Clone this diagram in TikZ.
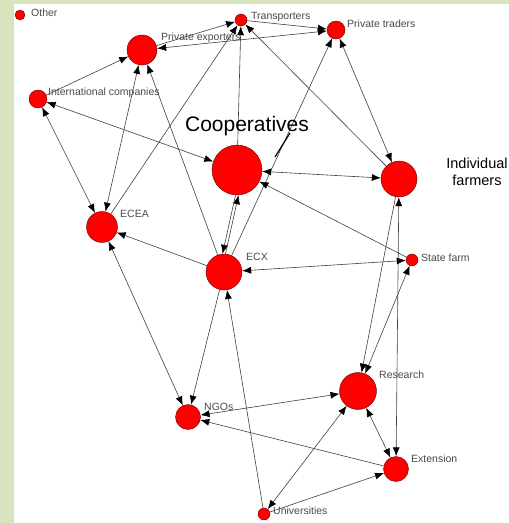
\documentclass[tikz,border=0pt]{standalone}
\usepackage{fontspec}
\setmainfont{Liberation Sans}
\usetikzlibrary{arrows.meta}
\definecolor{framegreen}{HTML}{D7E4BD}
\definecolor{edgegray}{HTML}{404040}
\definecolor{labelgray}{HTML}{4A4A4A}

\begin{document}
\begin{tikzpicture}[x=1pt, y=-1pt,
  actor/.style={circle, fill=red, draw=black!60!red, line width=0.4, inner sep=0},
  lbl/.style={anchor=west, inner sep=0, text=labelgray, font=\fontsize{10.5}{12}\selectfont},
  link/.style={draw=edgegray, line width=0.6, -{Latex[length=9pt,width=7pt,color=black]}},
  both/.style={link, {Latex[length=9pt,width=7pt,color=black]}-{Latex[length=9pt,width=7pt,color=black]}}]

  % frame
  \fill[framegreen] (0,0) rectangle (509,523);
  \fill[white] (14,4) rectangle (509,523);

  % actors
  \node[actor, minimum size=10] (other) at (20,15) {};
  \node[actor, minimum size=30] (pexp)  at (142,50) {};
  \node[actor, minimum size=12] (trans) at (241,20) {};
  \node[actor, minimum size=18] (ptrad) at (336,30) {};
  \node[actor, minimum size=18] (intl)  at (38,99) {};
  \node[actor, minimum size=50] (coop)  at (237,170) {};
  \node[actor, minimum size=36] (farm)  at (399,179) {};
  \node[actor, minimum size=31] (ecea)  at (102,227) {};
  \node[actor, minimum size=36] (ecx)   at (224,272) {};
  \node[actor, minimum size=12] (state) at (412,260) {};
  \node[actor, minimum size=37] (res)   at (358,391) {};
  \node[actor, minimum size=25] (ngo)   at (188,417) {};
  \node[actor, minimum size=25] (ext)   at (396,469) {};
  \node[actor, minimum size=12] (univ)  at (264,514) {};

  % links
  \draw[link] (pexp) -- (trans);
  \draw[both] (pexp) -- (ptrad);
  \draw[link] (trans) -- (ptrad);
  \draw[link] (intl) -- (pexp);
  \draw[both] (intl) -- (ecea);
  \draw[both] (intl) -- (coop);
  \draw[both] (ecea) -- (pexp);
  \draw[link] (ecea) -- (trans);
  \draw[link] (ecx) -- (pexp);
  \draw[link] (coop) -- (trans);
  \draw[link] (farm) -- (trans);
  \draw[both] (ptrad) -- (farm);
  \draw[link] (ecx) -- (ptrad);
  \draw[both] (coop) -- (farm);
  \draw[link] (state) -- (coop);
  \draw[link] ([xshift=1.5pt]ecx.north) -- ([xshift=1.5pt]coop.south);
  \draw[link] ([xshift=-1.5pt]coop.south) -- ([xshift=-1.5pt]ecx.north);
  \draw[link] (ecx) -- (ecea);
  \draw[both] (ecea) -- (ngo);
  \draw[link] (ecx) -- (ngo);
  \draw[link] (univ) -- (ecx);
  \draw[both] (state) -- (ecx);
  \draw[both] (farm) -- (ext);
  \draw[link] (farm) -- (res);
  \draw[both] (state) -- (res);
  \draw[both] (res) -- (ext);
  \draw[both] (ngo) -- (res);
  \draw[link] (ext) -- (ngo);
  \draw[both] (univ) -- (res);
  \draw[link] (univ) -- (ext);

  % labels
  \node[lbl] (otherL) at (31,13) {Other};
  \node[lbl] (pexpL)  at (161,38) {Private exporters};
  \node[lbl] (transL) at (251,17) {Transporters};
  \node[lbl] (ptradL) at (347,24) {Private traders};
  \node[lbl] (intlL)  at (48,93) {International companies};
  \node[lbl] (eceaL)  at (120,214) {ECEA};
  \node[lbl] (ecxL)   at (246,257) {ECX};
  \node[lbl] (stateL) at (421,258) {State farm};
  \node[lbl] (resL)   at (379,375) {Research};
  \node[lbl] (ngoL)   at (204,407) {NGOs};
  \node[lbl] (extL)   at (411,459) {Extension};
  \node[lbl] (univL)  at (273,511) {Universities};
  \node[inner sep=0, font=\fontsize{21}{24}\selectfont] (coopL) at (247,126) {Cooperatives};
  \node[inner sep=0, align=center, font=\fontsize{14.5}{17.5}\selectfont] (farmL) at (477,172) {Individual\\farmers};

  % pointer to cooperatives
  \coordinate (pointTop) at (290,133);
  \coordinate (pointEnd) at (275,157);
  \draw[line width=1.2] (pointTop) -- (pointEnd);
\end{tikzpicture}
\end{document}
